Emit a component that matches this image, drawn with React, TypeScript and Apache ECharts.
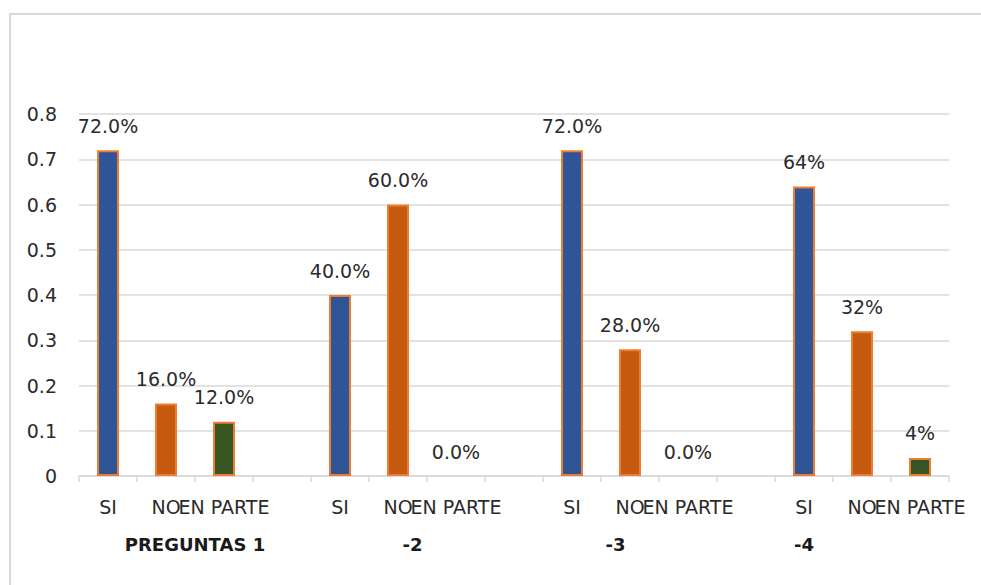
import React, { useEffect, useRef } from "react";
import * as echarts from "echarts";

// ---- data ----
const answerCategories = ["SI", "NO", "EN PARTE"];
const groupLabels = ["PREGUNTAS 1", "-2", "-3", "-4"];
const siValues = [0.72, 0.4, 0.72, 0.64];
const noValues = [0.16, 0.6, 0.28, 0.32];
const enParteValues = [0.12, 0.0, 0.0, 0.04];
const labelDecimals = [1, 1, 1, 0];
const yTicks = [0, 0.1, 0.2, 0.3, 0.4, 0.5, 0.6, 0.7, 0.8];

// ---- styles / layout ----
const answerColors = ["#2F5597", "#C55A11", "#375623"];
const borderColor = "#ED7D31";
const gridColor = "#D9D9D9";
const textColor = "#2b2b2b";
const FONT = "DejaVu Sans";
// group label slot (in quarter-category steps along the axis)
const groupLabelSlots = [8, 23, 37, 50];

export default function App() {
  const ref = useRef<HTMLDivElement>(null);

  useEffect(() => {
    document.body.style.margin = "0";
    if (!ref.current) return;
    const chart = echarts.init(ref.current, undefined, { renderer: "svg" });

    const xCats: string[] = [];
    const barData: any[] = [];
    groupLabels.forEach((g, gi) => {
      const vals = [siValues[gi], noValues[gi], enParteValues[gi]];
      vals.forEach((v, ai) => {
        xCats.push(answerCategories[ai]);
        barData.push({
          value: v,
          dec: labelDecimals[gi],
          itemStyle: {
            color: answerColors[ai],
            borderColor: borderColor,
            borderWidth: v === 0 ? 0 : 2,
          },
        });
      });
      if (gi < groupLabels.length - 1) {
        xCats.push("");
        barData.push({ value: null });
      }
    });

    const nSlots = xCats.length * 4 + 1;
    const groupAxisData: string[] = [];
    for (let i = 0; i < nSlots; i++) {
      const k = groupLabelSlots.indexOf(i);
      groupAxisData.push(k >= 0 ? groupLabels[k] : "");
    }

    chart.setOption({
      animation: false,
      backgroundColor: "#ffffff",
      textStyle: { fontFamily: FONT },
      graphic: [
        {
          type: "rect",
          shape: { x: 10, y: 14, width: 1000, height: 620 },
          style: { fill: "none", stroke: gridColor, lineWidth: 2 },
          silent: true,
        },
      ],
      grid: { left: 79, right: 32, top: 114, bottom: 109 },
      xAxis: [
        {
          type: "category",
          data: xCats,
          position: "bottom",
          axisLine: { lineStyle: { color: gridColor, width: 1.5 } },
          axisTick: {
            show: true,
            interval: 0,
            length: 6,
            lineStyle: { color: gridColor, width: 1.5 },
          },
          axisLabel: {
            interval: 0,
            fontSize: 19,
            color: textColor,
            fontFamily: FONT,
            margin: 21,
          },
        },
        {
          type: "category",
          data: groupAxisData,
          position: "bottom",
          boundaryGap: false,
          axisLine: { show: false },
          axisTick: { show: false },
          axisLabel: {
            interval: 0,
            fontSize: 18,
            fontWeight: "bold",
            color: "#1a1a1a",
            fontFamily: FONT,
            margin: 59,
          },
        },
      ],
      yAxis: {
        type: "value",
        min: yTicks[0],
        max: yTicks[yTicks.length - 1],
        interval: 0.1,
        axisLine: { show: false },
        axisTick: { show: false },
        splitLine: { lineStyle: { color: gridColor, width: 1.5 } },
        axisLabel: {
          fontSize: 19,
          color: textColor,
          fontFamily: FONT,
          margin: 22,
          formatter: (v: number) => (v === 0 ? "0" : v.toFixed(1)),
        },
      },
      series: [
        {
          type: "bar",
          xAxisIndex: 0,
          data: barData,
          barWidth: 22,
          label: {
            show: true,
            position: "top",
            distance: 15,
            fontSize: 19,
            color: textColor,
            fontFamily: FONT,
            formatter: (p: any) =>
              p.value == null
                ? ""
                : (p.value * 100).toFixed(p.data.dec) + "%",
          },
        },
      ],
    });

    return () => chart.dispose();
  }, []);

  return <div ref={ref} style={{ width: 981, height: 585 }} />;
}
